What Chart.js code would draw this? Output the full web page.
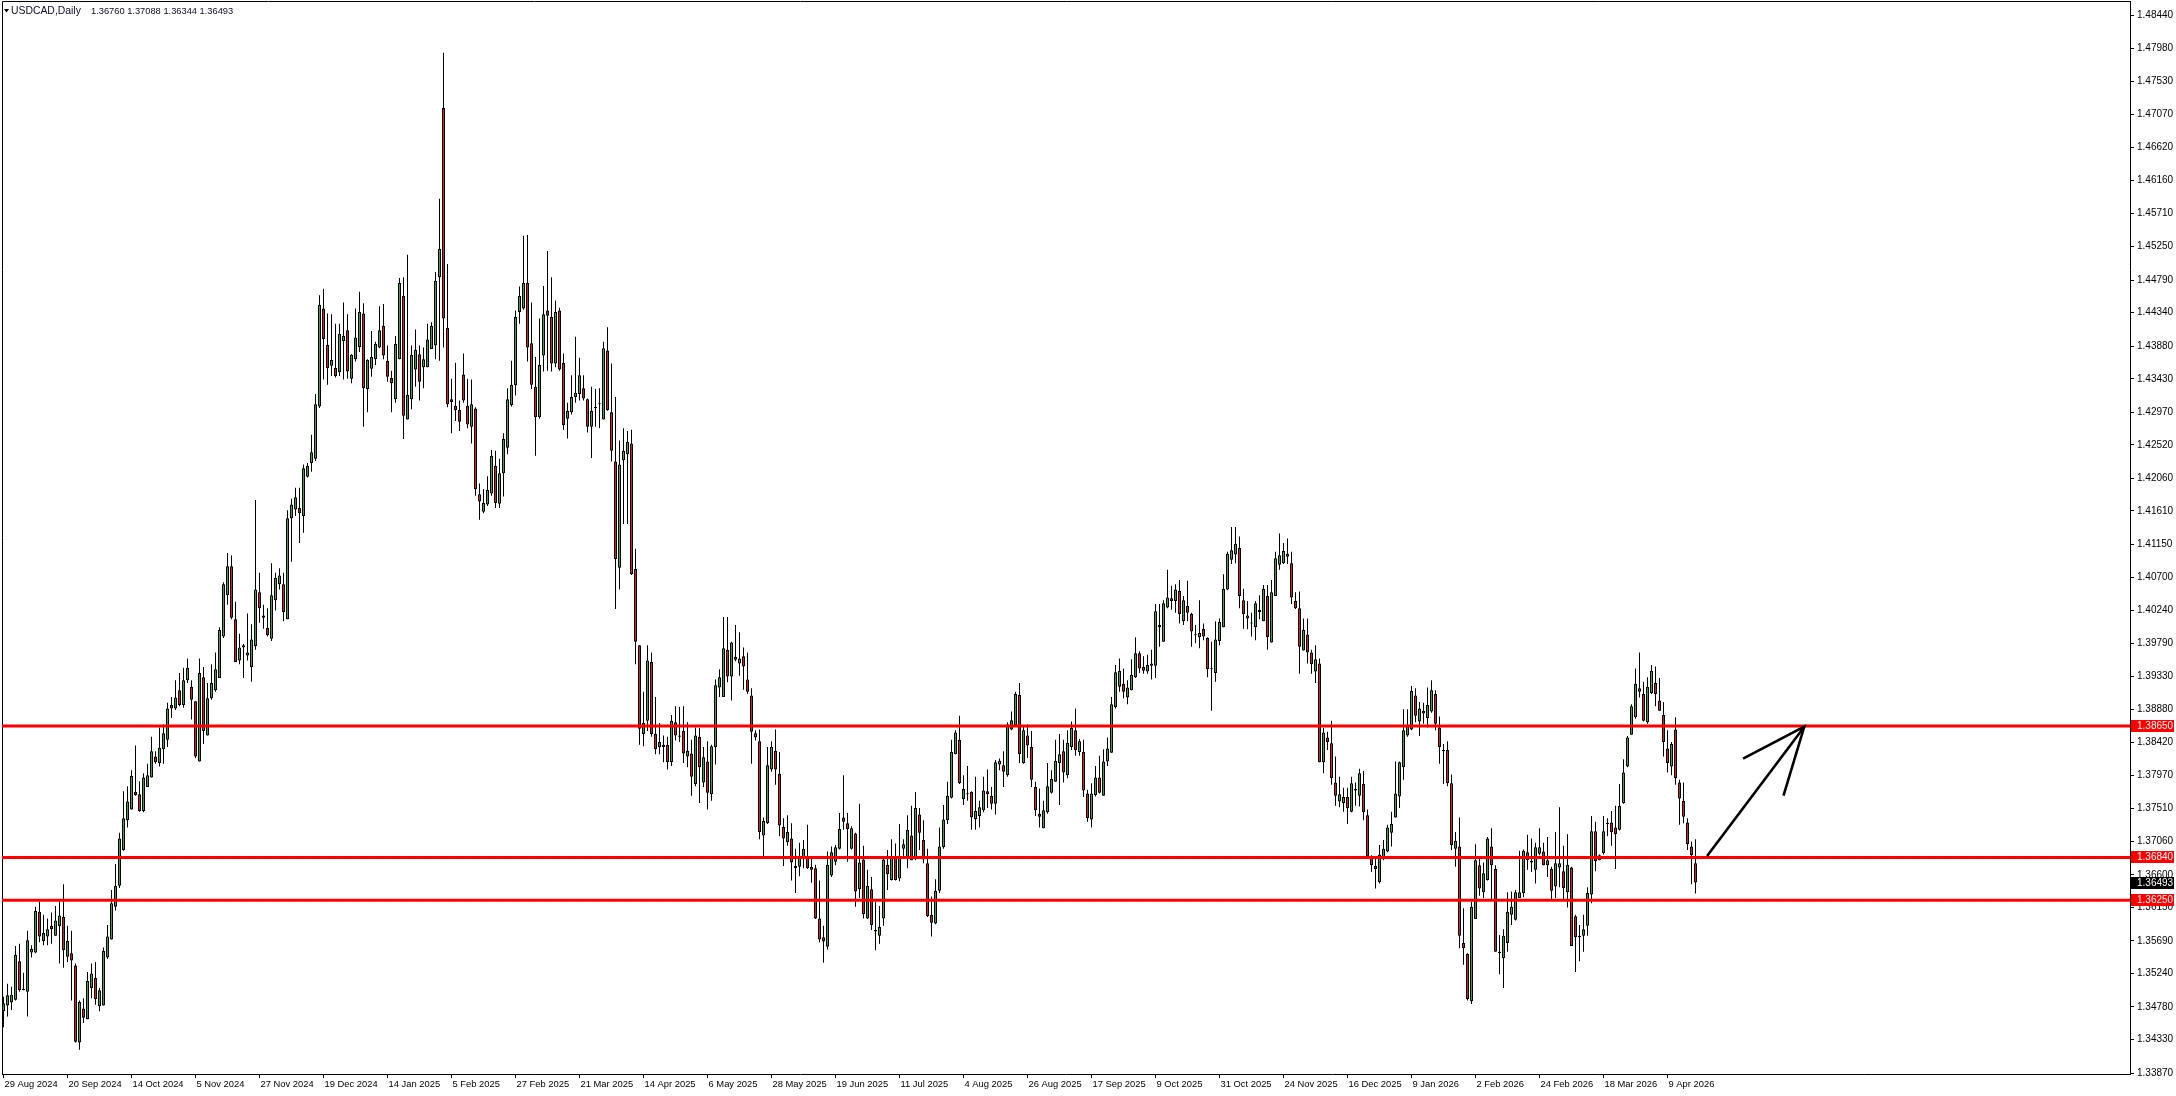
<!DOCTYPE html>
<html>
<head>
<meta charset="utf-8">
<title>USDCAD Daily</title>
<script src="https://cdn.jsdelivr.net/npm/chart.js@4.4.1/dist/chart.umd.min.js"></script>
<style>
    html, body { margin: 0; padding: 0; background: #ffffff; }
    #chartBox { position: relative; width: 2176px; height: 1096px; }
</style>
</head>
<body>
<div id="chartBox"><canvas id="priceChart"></canvas></div>
<script>
// Data candle harian USDCAD, satu nilai per bar
const openPrices = [
    1.3472,1.3480,1.3484,1.3488,1.3541,1.3503,1.3499,1.3553,1.3553,1.3609,
    1.3569,1.3575,1.3590,1.3576,1.3589,1.3602,1.3547,1.3552,1.3535,1.3429,
    1.3476,1.3461,1.3504,1.3518,1.3479,1.3480,1.3546,1.3571,1.3616,1.3645,
    1.3694,1.3735,1.3750,1.3774,1.3771,1.3748,1.3781,1.3794,1.3823,1.3814,
    1.3833,1.3846,1.3894,1.3889,1.3914,1.3894,1.3928,1.3919,1.3899,1.3816,
    1.3932,1.3852,1.3903,1.3914,1.3931,1.3988,1.4045,1.4085,1.4012,1.3955,
    1.3973,1.3962,1.3946,1.3975,1.4049,1.4017,1.4000,1.3985,1.4038,1.4060,
    1.4060,1.4012,1.4151,1.4163,1.4165,1.4154,1.4208,1.4227,1.4233,1.4305,
    1.4440,1.4390,1.4361,1.4358,1.4352,1.4395,1.4410,1.4343,1.4370,1.4387,
    1.4433,1.4329,1.4357,1.4370,1.4386,1.4416,1.4368,1.4344,1.4315,1.4370,
    1.4457,1.4287,1.4315,1.4356,1.4377,1.4359,1.4359,1.4384,1.4389,1.4483,
    1.4716,1.4413,1.4315,1.4306,1.4300,1.4349,1.4306,1.4277,1.4302,1.4184,
    1.4160,1.4170,1.4185,1.4223,1.4171,1.4213,1.4248,1.4307,1.4334,1.4435,
    1.4440,1.4475,1.4392,1.4332,1.4290,1.4375,1.4437,1.4428,1.4364,1.4437,
    1.4365,1.4288,1.4297,1.4318,1.4322,1.4330,1.4315,1.4277,1.4304,1.4308,
    1.4287,1.4382,1.4297,1.4229,1.4083,1.4231,1.4239,1.4254,1.4081,1.3976,
    1.3854,1.3872,1.3953,1.3854,1.3836,1.3836,1.3839,1.3815,1.3870,1.3852,
    1.3858,1.3823,1.3827,1.3785,1.3850,1.3787,1.3816,1.3771,1.3836,1.3918,
    1.3905,1.3970,1.3933,1.3960,1.3951,1.3961,1.3929,1.3907,1.3855,1.3844,
    1.3714,1.3731,1.3805,1.3831,1.3799,1.3726,1.3705,1.3710,1.3672,1.3671,
    1.3684,1.3684,1.3671,1.3669,1.3600,1.3574,1.3561,1.3659,1.3678,1.3696,
    1.3739,1.3731,1.3696,1.3717,1.3640,1.3681,1.3600,1.3640,1.3584,1.3576,
    1.3600,1.3674,1.3653,1.3684,1.3655,1.3696,1.3684,1.3714,1.3682,1.3743,
    1.3708,1.3676,1.3605,1.3593,1.3638,1.3698,1.3735,1.3766,1.3826,1.3846,
    1.3764,1.3771,1.3774,1.3737,1.3741,1.3749,1.3775,1.3769,1.3758,1.3812,
    1.3811,1.3797,1.3860,1.3866,1.3908,1.3814,1.3852,1.3836,1.3781,1.3744,
    1.3724,1.3746,1.3773,1.3788,1.3814,1.3830,1.3797,1.3836,1.3859,1.3829,
    1.3829,1.3772,1.3736,1.3770,1.3794,1.3769,1.3816,1.3828,1.3891,1.3919,
    1.3923,1.3904,1.3914,1.3932,1.3965,1.3946,1.3940,1.3948,1.3948,1.4004,
    1.3981,1.4028,1.4041,1.4037,1.4051,1.4009,1.4030,1.4019,1.3991,1.3987,
    1.3999,1.3986,1.3944,1.3938,1.3982,1.4001,1.4053,1.4094,1.4101,1.4110,
    1.4038,1.4013,1.4006,1.4001,1.4022,1.4009,1.4044,1.3980,1.4044,1.4087,
    1.4089,1.4102,1.4089,1.4037,1.4027,1.3969,1.3991,1.3966,1.3940,1.3951,
    1.3815,1.3849,1.3841,1.3787,1.3761,1.3759,1.3767,1.3747,1.3778,1.3769,
    1.3785,1.3742,1.3686,1.3672,1.3650,1.3684,1.3692,1.3718,1.3739,1.3768,
    1.3808,1.3852,1.3860,1.3907,1.3871,1.3886,1.3876,1.3885,1.3909,1.3863,
    1.3832,1.3832,1.3786,1.3696,1.3699,1.3566,1.3551,1.3486,1.3599,1.3673,
    1.3636,1.3653,1.3699,1.3668,1.3554,1.3545,1.3566,1.3605,1.3598,1.3628,
    1.3635,1.3691,1.3679,1.3667,1.3689,1.3692,1.3673,1.3668,1.3644,1.3670,
    1.3665,1.3636,1.3670,1.3603,1.3576,1.3576,1.3590,1.3633,1.3720,1.3680,
    1.3690,1.3730,1.3732,1.3725,1.3722,1.3759,1.3809,1.3853,1.3877,1.3917,
    1.3909,1.3870,1.3910,1.3924,1.3900,1.3880,1.3834,1.3809,1.3860,1.3787,
    1.3762,1.3732,1.3699,1.36760
];
const highPrices = [
    1.3492,1.3510,1.3506,1.3562,1.3565,1.3525,1.3583,1.3563,1.3616,1.3623,
    1.3605,1.3600,1.3608,1.3617,1.3623,1.3647,1.3590,1.3583,1.3538,1.3487,
    1.3490,1.3526,1.3538,1.3540,1.3504,1.3560,1.3591,1.3639,1.3675,1.3718,
    1.3775,1.3782,1.3804,1.3838,1.3789,1.3800,1.3813,1.3850,1.3830,1.3863,
    1.3867,1.3897,1.3905,1.3928,1.3938,1.3945,1.3958,1.3928,1.3899,1.3958,
    1.3946,1.3924,1.3950,1.3966,1.4001,1.4063,1.4103,1.4100,1.4036,1.3992,
    1.3978,1.4020,1.4005,1.4176,1.4076,1.4032,1.4027,1.4089,1.4076,1.4082,
    1.4076,1.4162,1.4178,1.4193,1.4193,1.4225,1.4227,1.4266,1.4322,1.4458,
    1.4467,1.4433,1.4432,1.4419,1.4419,1.4448,1.4432,1.4377,1.4440,1.4463,
    1.4447,1.4370,1.4409,1.4394,1.4443,1.4446,1.4389,1.4354,1.4402,1.4482,
    1.4483,1.4514,1.4389,1.4411,1.4389,1.4386,1.4419,1.4421,1.4490,1.4591,
    1.4792,1.4501,1.4343,1.4365,1.4313,1.4378,1.4343,1.4342,1.4304,1.4199,
    1.4191,1.4209,1.4245,1.4244,1.4233,1.4268,1.4330,1.4368,1.4437,1.4470,
    1.4540,1.4541,1.4448,1.4373,1.4426,1.4471,1.4519,1.4483,1.4451,1.4441,
    1.4378,1.4310,1.4348,1.4401,1.4372,1.4348,1.4316,1.4332,1.4329,1.4330,
    1.4394,1.4414,1.4364,1.4318,1.4258,1.4275,1.4271,1.4273,1.4109,1.3976,
    1.3912,1.3976,1.3966,1.3905,1.3869,1.3852,1.3850,1.3880,1.3892,1.3891,
    1.3892,1.3870,1.3846,1.3863,1.3862,1.3836,1.3844,1.3839,1.3929,1.3943,
    1.4015,1.4015,1.3981,1.4004,1.3994,1.3973,1.3966,1.3917,1.3859,1.3860,
    1.3739,1.3836,1.3844,1.3860,1.3829,1.3738,1.3742,1.3731,1.3696,1.3704,
    1.3708,1.3729,1.3685,1.3674,1.3652,1.3590,1.3692,1.3699,1.3701,1.3745,
    1.3797,1.3745,1.3727,1.3718,1.3758,1.3700,1.3667,1.3657,1.3623,1.3617,
    1.3685,1.3694,1.3709,1.3703,1.3730,1.3709,1.3742,1.3755,1.3774,1.3752,
    1.3735,1.3696,1.3630,1.3654,1.3725,1.3756,1.3788,1.3846,1.3859,1.3879,
    1.3797,1.3810,1.3775,1.3795,1.3762,1.3795,1.3805,1.3781,1.3818,1.3820,
    1.3830,1.3870,1.3885,1.3912,1.3924,1.3866,1.3867,1.3858,1.3788,1.3779,
    1.3762,1.3814,1.3804,1.3846,1.3854,1.3846,1.3859,1.3871,1.3889,1.3847,
    1.3846,1.3777,1.3786,1.3810,1.3824,1.3833,1.3849,1.3905,1.3949,1.3958,
    1.3944,1.3928,1.3957,1.3987,1.3968,1.3961,1.3963,1.3970,1.4033,1.4033,
    1.4038,1.4080,1.4058,1.4060,1.4066,1.4044,1.4065,1.4021,1.4004,1.4038,
    1.4006,1.3987,1.3981,1.4009,1.4013,1.4074,1.4105,1.4139,1.4139,1.4126,
    1.4054,1.4037,1.4021,1.4037,1.4045,1.4059,1.4059,1.4066,1.4105,1.4130,
    1.4117,1.4123,1.4105,1.4049,1.4050,1.4013,1.4013,1.3970,1.3976,1.3958,
    1.3862,1.3857,1.3872,1.3823,1.3795,1.3780,1.3780,1.3795,1.3787,1.3806,
    1.3803,1.3750,1.3687,1.3685,1.3701,1.3708,1.3729,1.3747,1.3816,1.3816,
    1.3888,1.3888,1.3920,1.3917,1.3898,1.3897,1.3918,1.3928,1.3914,1.3878,
    1.3840,1.3844,1.3798,1.3719,1.3739,1.3614,1.3552,1.3623,1.3702,1.3685,
    1.3677,1.3712,1.3724,1.3673,1.3577,1.3585,1.3636,1.3637,1.3639,1.3693,
    1.3695,1.3715,1.3710,1.3704,1.3724,1.3704,1.3712,1.3671,1.3719,1.3753,
    1.3700,1.3716,1.3671,1.3605,1.3591,1.3605,1.3643,1.3741,1.3733,1.3688,
    1.3741,1.3738,1.3748,1.3755,1.3785,1.3819,1.3851,1.3895,1.3944,1.3966,
    1.3926,1.3932,1.3949,1.3947,1.3931,1.3898,1.3859,1.3843,1.3877,1.3791,
    1.3787,1.3738,1.3706,1.37088
];
const lowPrices = [
    1.3450,1.3465,1.3474,1.3487,1.3499,1.3501,1.3465,1.3546,1.3552,1.3567,
    1.3563,1.3563,1.3565,1.3576,1.3538,1.3532,1.3540,1.3487,1.3429,1.3419,
    1.3456,1.3461,1.3490,1.3481,1.3472,1.3480,1.3544,1.3571,1.3611,1.3642,
    1.3693,1.3725,1.3750,1.3769,1.3747,1.3746,1.3781,1.3794,1.3813,1.3809,
    1.3813,1.3836,1.3876,1.3887,1.3892,1.3890,1.3924,1.3874,1.3821,1.3816,
    1.3840,1.3852,1.3901,1.3912,1.3931,1.3986,1.4032,1.4012,1.3953,1.3950,
    1.3931,1.3955,1.3926,1.3970,1.4007,1.3999,1.3988,1.3982,1.4024,1.4053,
    1.4009,1.4012,1.4091,1.4154,1.4117,1.4131,1.4207,1.4215,1.4230,1.4303,
    1.4342,1.4335,1.4347,1.4345,1.4347,1.4342,1.4343,1.4337,1.4367,1.4380,
    1.4277,1.4297,1.4346,1.4362,1.4385,1.4370,1.4339,1.4297,1.4310,1.4370,
    1.4260,1.4287,1.4301,1.4332,1.4313,1.4330,1.4359,1.4384,1.4370,1.4368,
    1.4386,1.4304,1.4268,1.4285,1.4271,1.4310,1.4275,1.4254,1.4182,1.4149,
    1.4158,1.4168,1.4182,1.4165,1.4165,1.4181,1.4239,1.4305,1.4320,1.4419,
    1.4438,1.4367,1.4329,1.4237,1.4288,1.4353,1.4354,1.4353,1.4359,1.4354,
    1.4273,1.4261,1.4294,1.4310,1.4313,1.4313,1.4269,1.4234,1.4277,1.4275,
    1.4287,1.4299,1.4229,1.4026,1.4053,1.4143,1.4143,1.4073,1.3950,1.3839,
    1.3837,1.3858,1.3850,1.3826,1.3826,1.3815,1.3805,1.3810,1.3845,1.3843,
    1.3814,1.3808,1.3769,1.3782,1.3759,1.3781,1.3750,1.3762,1.3812,1.3905,
    1.3905,1.3925,1.3900,1.3954,1.3934,1.3915,1.3909,1.3813,1.3845,1.3709,
    1.3685,1.3730,1.3802,1.3784,1.3713,1.3672,1.3700,1.3652,1.3635,1.3658,
    1.3669,1.3668,1.3649,1.3599,1.3567,1.3539,1.3557,1.3657,1.3673,1.3695,
    1.3722,1.3678,1.3695,1.3616,1.3628,1.3600,1.3599,1.3584,1.3556,1.3565,
    1.3590,1.3639,1.3652,1.3652,1.3651,1.3685,1.3669,1.3680,1.3680,1.3694,
    1.3676,1.3602,1.3575,1.3592,1.3635,1.3696,1.3730,1.3765,1.3826,1.3785,
    1.3756,1.3762,1.3722,1.3722,1.3725,1.3746,1.3752,1.3750,1.3743,1.3804,
    1.3781,1.3795,1.3859,1.3866,1.3814,1.3813,1.3821,1.3781,1.3741,1.3725,
    1.3724,1.3744,1.3772,1.3788,1.3756,1.3787,1.3793,1.3832,1.3824,1.3824,
    1.3767,1.3733,1.3725,1.3768,1.3772,1.3769,1.3810,1.3828,1.3889,1.3912,
    1.3903,1.3895,1.3914,1.3931,1.3938,1.3937,1.3937,1.3929,1.3931,1.3974,
    1.3981,1.4027,1.4025,1.4021,1.4006,1.4004,1.4009,1.3974,1.3979,1.3972,
    1.3983,1.3932,1.3886,1.3926,1.3976,1.4001,1.4052,1.4088,1.4089,1.4027,
    1.3999,1.3998,1.3988,1.3983,1.4012,1.4009,1.3970,1.3980,1.4044,1.4080,
    1.4088,1.4088,1.4033,1.4026,1.3937,1.3969,1.3951,1.3937,1.3924,1.3815,
    1.3800,1.3832,1.3784,1.3755,1.3753,1.3747,1.3730,1.3746,1.3755,1.3754,
    1.3735,1.3685,1.3664,1.3641,1.3648,1.3680,1.3691,1.3699,1.3739,1.3752,
    1.3791,1.3850,1.3859,1.3870,1.3851,1.3868,1.3863,1.3883,1.3859,1.3813,
    1.3785,1.3782,1.3694,1.3671,1.3559,1.3536,1.3487,1.3482,1.3599,1.3631,
    1.3628,1.3652,1.3624,1.3554,1.3523,1.3504,1.3554,1.3591,1.3597,1.3628,
    1.3629,1.3667,1.3664,1.3648,1.3687,1.3673,1.3657,1.3625,1.3628,1.3643,
    1.3626,1.3615,1.3562,1.3526,1.3541,1.3554,1.3576,1.3621,1.3665,1.3680,
    1.3688,1.3713,1.3700,1.3668,1.3721,1.3758,1.3808,1.3853,1.3875,1.3904,
    1.3871,1.3868,1.3909,1.3892,1.3886,1.3823,1.3801,1.3797,1.3784,1.3729,
    1.3731,1.3694,1.3647,1.36344
];
const closePrices = [
    1.3483,1.3494,1.3495,1.3550,1.3501,1.3501,1.3570,1.3558,1.3610,1.3575,
    1.3580,1.3585,1.3585,1.3597,1.3604,1.3556,1.3569,1.3542,1.3430,1.3485,
    1.3463,1.3514,1.3524,1.3489,1.3501,1.3555,1.3575,1.3621,1.3645,1.3710,
    1.3738,1.3761,1.3796,1.3770,1.3748,1.3794,1.3797,1.3830,1.3815,1.3835,
    1.3855,1.3889,1.3889,1.3904,1.3894,1.3928,1.3945,1.3901,1.3823,1.3938,
    1.3858,1.3903,1.3924,1.3943,1.3997,1.4060,1.4085,1.4014,1.3953,1.3973,
    1.3976,1.3966,1.3984,1.4053,1.4027,1.4014,1.3990,1.4045,1.4069,1.4072,
    1.4022,1.4151,1.4170,1.4180,1.4158,1.4220,1.4223,1.4242,1.4308,1.4445,
    1.4398,1.4358,1.4369,1.4347,1.4405,1.4402,1.4353,1.4376,1.4400,1.4435,
    1.4330,1.4369,1.4373,1.4391,1.4410,1.4375,1.4346,1.4337,1.4391,1.4475,
    1.4292,1.4321,1.4376,1.4383,1.4339,1.4370,1.4397,1.4416,1.4478,1.4522,
    1.4426,1.4308,1.4311,1.4300,1.4284,1.4313,1.4280,1.4308,1.4191,1.4174,
    1.4172,1.4190,1.4237,1.4172,1.4213,1.4260,1.4315,1.4335,1.4428,1.4457,
    1.4475,1.4386,1.4335,1.4290,1.4362,1.4432,1.4430,1.4364,1.4435,1.4356,
    1.4279,1.4299,1.4318,1.4324,1.4348,1.4316,1.4277,1.4299,1.4303,1.4308,
    1.4385,1.4300,1.4244,1.4095,1.4225,1.4244,1.4256,1.4074,1.3981,1.3861,
    1.3869,1.3955,1.3854,1.3833,1.3843,1.3839,1.3815,1.3872,1.3852,1.3850,
    1.3827,1.3831,1.3795,1.3852,1.3808,1.3822,1.3773,1.3837,1.3921,1.3932,
    1.3972,1.3933,1.3980,1.3956,1.3958,1.3947,1.3912,1.3857,1.3849,1.3719,
    1.3734,1.3811,1.3836,1.3805,1.3728,1.3710,1.3719,1.3677,1.3669,1.3684,
    1.3696,1.3669,1.3667,1.3600,1.3571,1.3568,1.3674,1.3691,1.3698,1.3723,
    1.3733,1.3723,1.3724,1.3637,1.3677,1.3606,1.3645,1.3591,1.3582,1.3588,
    1.3681,1.3661,1.3685,1.3653,1.3684,1.3702,1.3722,1.3680,1.3752,1.3718,
    1.3681,1.3603,1.3594,1.3638,1.3699,1.3736,1.3769,1.3829,1.3856,1.3786,
    1.3778,1.3772,1.3739,1.3748,1.3753,1.3776,1.3771,1.3758,1.3815,1.3817,
    1.3802,1.3867,1.3873,1.3909,1.3826,1.3859,1.3838,1.3791,1.3749,1.3740,
    1.3749,1.3782,1.3792,1.3817,1.3826,1.3801,1.3842,1.3862,1.3832,1.3844,
    1.3776,1.3738,1.3772,1.3794,1.3773,1.3816,1.3834,1.3895,1.3939,1.3941,
    1.3912,1.3918,1.3935,1.3965,1.3944,1.3941,1.3949,1.3951,1.4023,1.4001,
    1.4034,1.4042,1.4037,1.4053,1.4019,1.4038,1.4021,1.3995,1.3990,1.3993,
    1.3988,1.3943,1.3943,1.3984,1.4008,1.4054,1.4102,1.4107,1.4116,1.4044,
    1.4019,1.4017,1.4007,1.4034,1.4025,1.4054,1.3987,1.4049,1.4096,1.4100,
    1.4106,1.4098,1.4042,1.4027,1.3974,1.3997,1.3966,1.3950,1.3957,1.3815,
    1.3856,1.3843,1.3793,1.3769,1.3771,1.3767,1.3752,1.3786,1.3776,1.3800,
    1.3746,1.3686,1.3673,1.3668,1.3688,1.3696,1.3725,1.3730,1.3772,1.3815,
    1.3859,1.3865,1.3913,1.3879,1.3889,1.3882,1.3894,1.3914,1.3868,1.3836,
    1.3830,1.3786,1.3701,1.3707,1.3576,1.3559,1.3489,1.3616,1.3680,1.3641,
    1.3662,1.3710,1.3673,1.3554,1.3552,1.3576,1.3609,1.3616,1.3636,1.3636,
    1.3693,1.3680,1.3677,1.3698,1.3698,1.3673,1.3680,1.3638,1.3676,1.3676,
    1.3642,1.3674,1.3562,1.3574,1.3574,1.3585,1.3635,1.3720,1.3679,1.3687,
    1.3720,1.3730,1.3719,1.3716,1.3755,1.3801,1.3849,1.3892,1.3923,1.3912,
    1.3872,1.3919,1.3941,1.3909,1.3886,1.3843,1.3814,1.3840,1.3793,1.3765,
    1.3740,1.3702,1.3687,1.36493
];

// Label tanggal sumbu X dan posisi bar-nya
const dateLabels = [
    '29 Aug 2024', '20 Sep 2024', '14 Oct 2024', '5 Nov 2024', '27 Nov 2024', '19 Dec 2024',
    '14 Jan 2025', '5 Feb 2025', '27 Feb 2025', '21 Mar 2025', '14 Apr 2025', '6 May 2025',
    '28 May 2025', '19 Jun 2025', '11 Jul 2025', '4 Aug 2025', '26 Aug 2025', '17 Sep 2025',
    '9 Oct 2025', '31 Oct 2025', '24 Nov 2025', '16 Dec 2025', '9 Jan 2026', '2 Feb 2026',
    '24 Feb 2026', '18 Mar 2026', '9 Apr 2026'
];
const dateLabelBars = [
    0, 16, 32, 48, 64, 80, 96, 112, 128, 144, 160, 176, 192, 208,
    224, 240, 256, 272, 288, 304, 320, 336, 352, 368, 384, 400, 416
];

// Label harga sumbu Y
const priceTicks = [
    '1.48440', '1.47980', '1.47530', '1.47070', '1.46620', '1.46160', '1.45710', '1.45250',
    '1.44790', '1.44340', '1.43880', '1.43430', '1.42970', '1.42520', '1.42060', '1.41610',
    '1.41150', '1.40700', '1.40240', '1.39790', '1.39330', '1.38880', '1.38420', '1.37970',
    '1.37510', '1.37060', '1.36600', '1.36150', '1.35690', '1.35240', '1.34780', '1.34330',
    '1.33870'
];

// Garis support / resistance dan harga terakhir
const levelPrices = [1.38650, 1.36840, 1.36250];
const lastPrice = 1.36493;

// Panah (posisi bar, harga)
const arrowShaft = [[425.9, 1.3686], [450.2, 1.3864]];
const arrowHead = [[434.9, 1.3820], [450.2, 1.3864], [445.0, 1.3769]];

const symbolName = 'USDCAD,Daily';
const bullColor = '#3da33d';
const bearColor = '#dc2018';
const axisFont = { family: '"Liberation Sans", Arial, sans-serif', size: 10 };
const dateFont = { family: '"Liberation Sans", Arial, sans-serif', size: 9.4 };

// Bingkai dan label harga di sumbu kanan (gaya MT4)
const mtOverlay = {
    id: 'mtOverlay',
    beforeDatasetsDraw(chart) {
        const { ctx, chartArea: a } = chart;
        ctx.save();
        ctx.strokeStyle = '#000';
        ctx.lineWidth = 1;
        ctx.beginPath();
        ctx.moveTo(a.left + 0.5, a.bottom);
        ctx.lineTo(a.left + 0.5, a.top + 0.5);
        ctx.lineTo(a.right, a.top + 0.5);
        ctx.stroke();
        ctx.restore();
    },
    afterDraw(chart) {
        const { ctx, chartArea: a } = chart;
        const yScale = chart.scales.y;
        ctx.save();
        ctx.font = '10px "Liberation Sans", Arial, sans-serif';
        ctx.textBaseline = 'middle';
        ctx.textAlign = 'left';

        const drawTag = (value, bg) => {
            const py = Math.round(yScale.getPixelForValue(value));
            ctx.fillStyle = bg;
            ctx.fillRect(a.right + 1, py - 6, 43, 12);
            ctx.fillStyle = '#fff';
            ctx.fillText(value.toFixed(5), a.right + 7, py + 0.5);
        };
        levelPrices.forEach(v => drawTag(v, '#ff0000'));
        drawTag(lastPrice, '#000000');

        // Judul: simbol dan OHLC bar terakhir
        const n = closePrices.length - 1;
        const ohlc = [openPrices[n], highPrices[n], lowPrices[n], closePrices[n]]
            .map(v => v.toFixed(5)).join(' ');
        ctx.fillStyle = '#000';
        ctx.beginPath();
        ctx.moveTo(4, 9);
        ctx.lineTo(9, 9);
        ctx.lineTo(6.5, 12.5);
        ctx.closePath();
        ctx.fill();
        ctx.fillStyle = '#0a0a2a';
        ctx.font = '10.4px "Liberation Sans", Arial, sans-serif';
        ctx.fillText(symbolName, 11, 11);
        ctx.font = '9.3px "Liberation Sans", Arial, sans-serif';
        ctx.fillText(ohlc, 91, 11);
        ctx.restore();
    }
};

function initCandleChart() {
    const ctx = document.getElementById('priceChart').getContext('2d');

    const bodies = [];
    const wicks = [];
    const bodyColors = [];
    for (let i = 0; i < closePrices.length; i++) {
        bodies.push({ x: i, y: [openPrices[i], closePrices[i]] });
        wicks.push({ x: i, y: [lowPrices[i], highPrices[i]] });
        bodyColors.push(closePrices[i] >= openPrices[i] ? bullColor : bearColor);
    }

    const xMin = -0.375;
    const xMax = 531.625;

    const levelSets = levelPrices.map(level => ({
        type: 'line',
        data: [{ x: xMin, y: level }, { x: xMax, y: level }],
        borderColor: '#ff0000',
        borderWidth: 3,
        pointRadius: 0,
        order: 1
    }));

    const chart = new Chart(ctx, {
        type: 'bar',
        data: {
            datasets: [
                {
                    type: 'line',
                    data: arrowShaft.map(p => ({ x: p[0], y: p[1] })),
                    borderColor: '#000',
                    borderWidth: 2.6,
                    pointRadius: 0,
                    order: 0
                },
                {
                    type: 'line',
                    data: arrowHead.map(p => ({ x: p[0], y: p[1] })),
                    borderColor: '#000',
                    borderWidth: 2.6,
                    pointRadius: 0,
                    order: 0
                },
                ...levelSets,
                {
                    data: bodies,
                    backgroundColor: bodyColors,
                    borderColor: '#000',
                    borderWidth: 1,
                    borderSkipped: false,
                    barThickness: 3,
                    maxBarThickness: 3,
                    minBarLength: 1,
                    inflateAmount: 0,
                    grouped: false,
                    order: 2
                },
                {
                    data: wicks,
                    backgroundColor: '#000',
                    borderWidth: 0,
                    barThickness: 1,
                    maxBarThickness: 1,
                    inflateAmount: 0,
                    grouped: false,
                    order: 3
                }
            ]
        },
        options: {
            responsive: true,
            maintainAspectRatio: false,
            animation: false,
            events: [],
            devicePixelRatio: 1,
            layout: { padding: { left: 2, top: 1, right: 0, bottom: 0 } },
            scales: {
                x: {
                    type: 'linear',
                    min: xMin,
                    max: xMax,
                    bounds: 'data',
                    offset: false,
                    afterBuildTicks: scale => {
                        scale.ticks = dateLabelBars.map(v => ({ value: v }));
                    },
                    afterFit: scale => {
                        scale.height = 22;
                        scale.paddingLeft = 0;
                        scale.paddingRight = 0;
                    },
                    ticks: {
                        autoSkip: false,
                        maxRotation: 0,
                        align: 'start',
                        padding: 1,
                        labelOffset: 1,
                        color: '#000',
                        font: dateFont,
                        callback: function(value, index) {
                            return dateLabels[index];
                        }
                    },
                    grid: {
                        offset: false,
                        drawOnChartArea: false,
                        drawTicks: true,
                        tickLength: 4,
                        color: '#000'
                    },
                    border: { display: true, color: '#000', width: 1 }
                },
                y: {
                    position: 'right',
                    min: 1.33857,
                    max: 1.48633,
                    bounds: 'data',
                    afterBuildTicks: scale => {
                        scale.ticks = priceTicks.map(t => ({ value: parseFloat(t) }));
                    },
                    afterFit: scale => {
                        scale.width = 46;
                        scale.paddingTop = 0;
                        scale.paddingBottom = 0;
                    },
                    ticks: {
                        autoSkip: false,
                        padding: 3,
                        color: '#000',
                        font: axisFont,
                        callback: function(value) {
                            return value.toFixed(5);
                        }
                    },
                    grid: {
                        drawOnChartArea: false,
                        drawTicks: true,
                        tickLength: 4,
                        color: '#000'
                    },
                    border: { display: true, color: '#000', width: 1 }
                }
            },
            plugins: {
                legend: { display: false },
                tooltip: { enabled: false }
            }
        },
        plugins: [mtOverlay]
    });
}

document.addEventListener('DOMContentLoaded', function() {
    if (document.getElementById('priceChart')) {
        initCandleChart();
    }
});
</script>
</body>
</html>
